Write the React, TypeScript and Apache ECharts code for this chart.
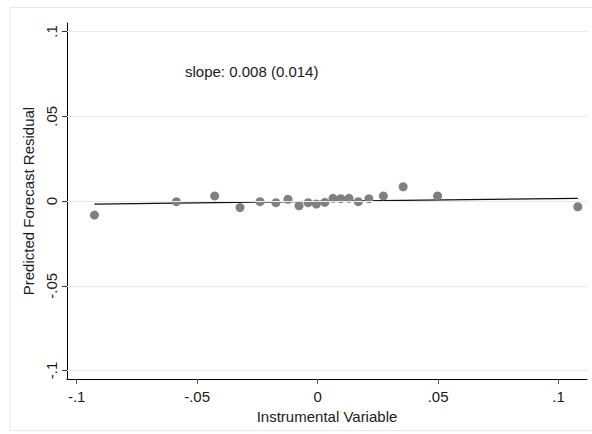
import React, { useEffect, useRef } from "react";
import * as echarts from "echarts";

const xValues = [-0.0926, -0.0586, -0.0427, -0.0322, -0.0239, -0.0173, -0.0123, -0.0077, -0.0039, -0.0005, 0.003, 0.0064, 0.0096, 0.013, 0.0169, 0.0213, 0.0273, 0.0355, 0.0498, 0.108];
const yValues = [-0.0083, -0.0004, 0.003, -0.0039, -0.0004, -0.001, 0.001, -0.0028, -0.001, -0.0018, -0.0008, 0.0016, 0.0014, 0.0016, -0.0004, 0.0014, 0.003, 0.0084, 0.003, -0.0034];
const fitX = [-0.0926, 0.108];
const fitY = [-0.0018, 0.0016];
const tickValues = [-0.1, -0.05, 0, 0.05, 0.1];
const annotation = "slope: 0.008 (0.014)";
const xTitle = "Instrumental Variable";
const yTitle = "Predicted Forecast Residual";

const fmt = (v: number) => {
  const r = Math.round(v * 1000) / 1000;
  if (r === 0) return "0";
  const s = String(Math.abs(r)).replace(/^0/, "");
  return (r < 0 ? "-" : "") + s;
};

export default function App() {
  const ref = useRef<HTMLDivElement>(null);
  useEffect(() => {
    document.body.style.margin = "0";
    if (!ref.current) return;
    const chart = echarts.init(ref.current, undefined, { renderer: "svg" });
    const font = "Liberation Sans, Arial, sans-serif";
    chart.setOption({
      animation: false,
      backgroundColor: "#ffffff",
      grid: { left: 67, top: 23, right: 5, bottom: 55 },
      xAxis: {
        type: "value",
        min: -0.104,
        max: 0.1118,
        splitLine: { show: false },
        axisLine: { onZero: false, lineStyle: { color: "#000", width: 1 } },
        axisTick: { show: true, length: 5, lineStyle: { color: "#555" }, customValues: tickValues },
        axisLabel: {
          customValues: tickValues,
          formatter: fmt,
          color: "#1a1a1a",
          fontSize: 15,
          fontFamily: font,
          margin: 10,
        },
        name: xTitle,
        nameLocation: "middle",
        nameGap: 28,
        nameTextStyle: { color: "#1a1a1a", fontSize: 15, fontFamily: font },
      },
      yAxis: {
        type: "value",
        min: -0.105,
        max: 0.105,
        splitLine: { show: false },
        axisLine: { onZero: false, lineStyle: { color: "#000", width: 1 } },
        axisTick: { show: true, length: 5, lineStyle: { color: "#333" }, customValues: tickValues },
        axisLabel: {
          customValues: tickValues,
          formatter: fmt,
          rotate: 90,
          color: "#1a1a1a",
          fontSize: 15,
          fontFamily: font,
          margin: 8.5,
        },
        name: yTitle,
        nameLocation: "middle",
        nameRotate: 90,
        nameGap: 25,
        nameTextStyle: { color: "#1a1a1a", fontSize: 15, fontFamily: font },
      },
      series: [
        {
          type: "line",
          data: tickValues.map((v) => [v, 0]),
          showSymbol: false,
          lineStyle: { opacity: 0 },
          silent: true,
          markLine: {
            silent: true,
            symbol: "none",
            label: { show: false },
            lineStyle: { color: "#e4eded", width: 1, type: "solid" },
            data: tickValues.map((v) => ({ yAxis: v })),
          },
          z: 1,
        },
        {
          type: "line",
          data: fitX.map((x, i) => [x, fitY[i]]),
          showSymbol: false,
          lineStyle: { color: "#111", width: 1.3 },
          z: 3,
        },
        {
          type: "scatter",
          data: xValues.map((x, i) => [x, yValues[i]]),
          symbolSize: 9,
          itemStyle: { color: "#808080", opacity: 1 },
          z: 4,
        },
      ],
      graphic: [
        {
          type: "rect",
          shape: { x: 10, y: 7.5, width: 600, height: 423 },
          style: { fill: "none", stroke: "#e4e9eb", lineWidth: 1 },
          silent: true,
          z: -10,
        },
        {
          type: "text",
          x: 185,
          y: 71,
          style: { text: annotation, fill: "#1a1a1a", font: "15px Liberation Sans, Arial, sans-serif", verticalAlign: "middle" },
        },
      ],
    });
    return () => chart.dispose();
  }, []);
  return <div ref={ref} style={{ width: 592, height: 434 }} />;
}
